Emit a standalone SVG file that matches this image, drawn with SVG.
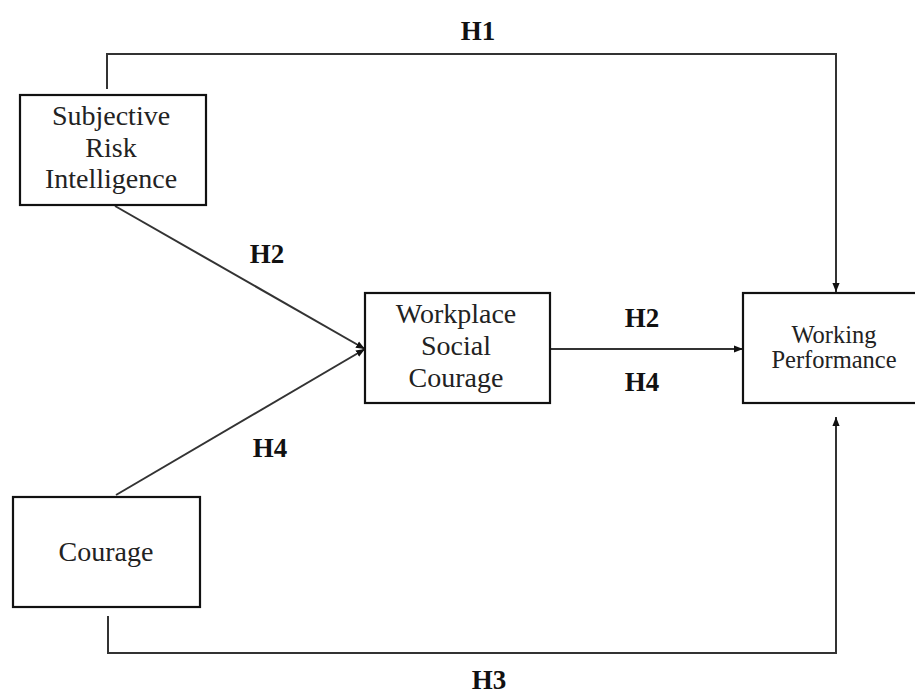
<svg xmlns="http://www.w3.org/2000/svg" width="915" height="695" viewBox="0 0 915 695">
<style>
.box{fill:#fff;stroke:#111;stroke-width:2.2}
.t{font-family:"Liberation Serif","Times New Roman",serif;font-size:28px;fill:#222;text-anchor:middle}
.s{font-size:24.5px}
.h{font-family:"Liberation Serif","Times New Roman",serif;font-size:27px;font-weight:bold;fill:#111;text-anchor:middle}
.c{fill:none;stroke:#333;stroke-width:2}
</style>
<defs>
<marker id="ah" viewBox="0 0 10 10" refX="10" refY="5" markerWidth="9" markerHeight="9" markerUnits="userSpaceOnUse" orient="auto">
<path d="M0,1 L10,5 L0,9 Z" fill="#111"/>
</marker>
</defs>
<g id="connectors">
<path class="c" d="M107,89 V54 H836 V292" marker-end="url(#ah)"/>
<path class="c" d="M115,206 L365,349" marker-end="url(#ah)"/>
<path class="c" d="M116,495 L365,349" marker-end="url(#ah)"/>
<path class="c" d="M550,349 H743" marker-end="url(#ah)"/>
<path class="c" d="M108,616 V653 H836 V417" marker-end="url(#ah)"/>
</g>
<g id="labels">
<text class="h" x="478" y="40">H1</text>
<text class="h" x="267" y="263">H2</text>
<text class="h" x="270" y="457">H4</text>
<text class="h" x="642" y="327">H2</text>
<text class="h" x="642" y="391">H4</text>
<text class="h" x="489" y="689">H3</text>
</g>
<g id="sri">
<rect class="box" x="20" y="95" width="186" height="110"/>
<text class="t" x="111" y="125">Subjective</text>
<text class="t" x="111" y="157">Risk</text>
<text class="t" x="111" y="188">Intelligence</text>
</g>
<g id="wsc">
<rect class="box" x="365" y="293" width="185" height="110"/>
<text class="t" x="456" y="323">Workplace</text>
<text class="t" x="456" y="355">Social</text>
<text class="t" x="456" y="387">Courage</text>
</g>
<g id="wp">
<rect class="box" x="743" y="293" width="190" height="110"/>
<text class="t s" x="834" y="343">Working</text>
<text class="t s" x="834" y="368">Performance</text>
</g>
<g id="courage">
<rect class="box" x="13" y="497" width="187" height="110"/>
<text class="t" x="106" y="561">Courage</text>
</g>
</svg>
